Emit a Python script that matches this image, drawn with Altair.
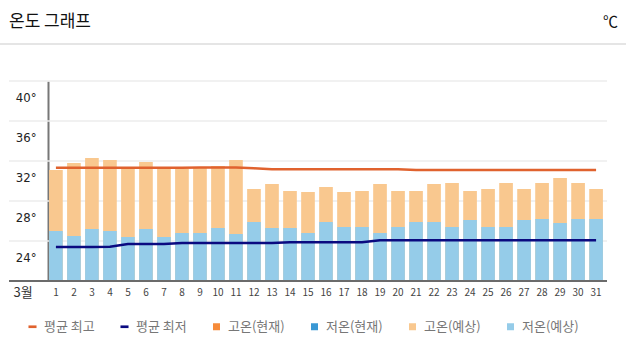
import altair as alt
import pandas as pd

KR = "Noto Sans CJK KR"

days = [1, 2, 3, 4, 5, 6, 7, 8, 9, 10, 11, 12, 13, 14, 15, 16, 17, 18, 19, 20,
        21, 22, 23, 24, 25, 26, 27, 28, 29, 30, 31]
high_forecast = [31.1, 31.8, 32.3, 32.1, 31.4, 31.9, 31.2, 31.2, 31.4, 31.5, 32.1,
                 29.2, 29.7, 29.0, 28.9, 29.4, 28.9, 29.0, 29.7, 29.0, 29.0,
                 29.7, 29.8, 29.0, 29.2, 29.8, 29.2, 29.8, 30.3, 29.8, 29.2]
low_forecast = [25.0, 24.5, 25.2, 25.0, 24.4, 25.2, 24.4, 24.8, 24.8, 25.3, 24.7,
                25.9, 25.3, 25.3, 24.8, 25.9, 25.4, 25.4, 24.8, 25.4, 25.9,
                25.9, 25.4, 26.1, 25.4, 25.4, 26.1, 26.2, 25.8, 26.2, 26.2]
avg_high = [31.33, 31.33, 31.33, 31.33, 31.33, 31.33, 31.33, 31.33, 31.34, 31.34, 31.34,
            31.27, 31.17, 31.17, 31.17, 31.17, 31.17, 31.17, 31.17, 31.17, 31.1,
            31.1, 31.1, 31.1, 31.1, 31.1, 31.1, 31.1, 31.1, 31.1, 31.1]
avg_low = [23.4, 23.4, 23.4, 23.42, 23.7, 23.7, 23.7, 23.8, 23.8, 23.8, 23.8,
           23.8, 23.8, 23.87, 23.87, 23.87, 23.87, 23.87, 24.08, 24.08, 24.08,
           24.08, 24.08, 24.08, 24.08, 24.08, 24.08, 24.08, 24.08, 24.08, 24.08]
y_ticks = [24, 28, 32, 36, 40]
y_base = 20
title_text = ["온도 그래프"]
unit_text = ["℃"]
month_label = "3월"

legend_items = ["평균 최고", "평균 최저", "고온(현재)", "저온(현재)", "고온(예상)", "저온(예상)"]
legend_colors = ["#E0622E", "#0A0A80", "#F68B3A", "#3A98D4", "#F9C88F", "#95CCE9"]
DASH = "M-1.15,-0.38L1.15,-0.38L1.15,0.38L-1.15,0.38Z"
SQ = "M-1,-1L1,-1L1,1L-1,1Z"
legend_shapes = [DASH, DASH, SQ, SQ, SQ, SQ]

W, H = 556, 200

df = pd.DataFrame({"day": days, "high": high_forecast, "low": low_forecast,
                   "avg_high": avg_high, "avg_low": avg_low})
df_grid = pd.DataFrame({"v": y_ticks})
df_title = pd.DataFrame({"t": title_text})
df_unit = pd.DataFrame({"t": unit_text})
df_leg = pd.DataFrame({"item": legend_items})

yscale = alt.Scale(domain=[y_base, 40], nice=False, zero=False)
xscale = alt.Scale(paddingInner=0.24, paddingOuter=0.06)

x_axis = alt.Axis(title=month_label, labelAngle=0, domain=False, ticks=False,
                  grid=False, labelPadding=6, labelFontSize=10,
                  labelColor="#444", labelFont=KR,
                  titleX=-35, titleY=11, titleAlign="left",
                  titleBaseline="middle", titleFontSize=13,
                  titleFontWeight="normal", titleFont=KR,
                  titleColor="#333")
y_axis = alt.Axis(values=y_ticks, title=None, grid=False, ticks=False,
                  domainColor="#777", domainWidth=2,
                  labelExpr="datum.value + '°'", labelOffset=16,
                  labelPadding=12, labelFontSize=13, labelColor="#222",
                  labelFont="Liberation Sans Narrow, DejaVu Sans Condensed, sans-serif")


def X():
    return alt.X("day:O", scale=xscale, sort=None, axis=x_axis, title=month_label)


def Y(field):
    return alt.Y(field, scale=yscale, axis=y_axis, title=None)


grid = alt.Chart(df_grid).mark_rule(color="#ececec", strokeWidth=1.5).encode(
    y=Y("v:Q"), x=alt.value(-39), x2=alt.value(559))

bars_high = alt.Chart(df).mark_bar(color=legend_colors[4]).encode(
    x=X(), y=Y("high:Q"), y2=alt.datum(y_base))

bars_low = alt.Chart(df).mark_bar(color=legend_colors[5]).encode(
    x=X(), y=Y("low:Q"), y2=alt.datum(y_base))

line_high = alt.Chart(df).mark_line(color=legend_colors[0], strokeWidth=2.5).encode(
    x=X(), y=Y("avg_high:Q"))
line_low = alt.Chart(df).mark_line(color=legend_colors[1], strokeWidth=2.5).encode(
    x=X(), y=Y("avg_low:Q"))

baseline = alt.Chart(df_title).mark_rule(color="#6b6b6b", strokeWidth=2).encode(
    y=alt.datum(y_base), x=alt.value(-39), x2=alt.value(559))

title = alt.Chart(df_title).mark_text(align="left", baseline="middle", fontSize=17,
                                      font=KR, color="#111").encode(
    x=alt.value(-39), y=alt.value(-59), text="t:N")
unit = alt.Chart(df_unit).mark_text(align="right", baseline="middle", fontSize=15,
                                    font=KR, color="#111").encode(
    x=alt.value(570), y=alt.value(-59), text="t:N")
sep = alt.Chart(df_title).mark_rule(color="#dddddd", strokeWidth=1.5).encode(
    x=alt.value(-48), x2=alt.value(578), y=alt.value(-37))

leg_props = dict(title=None, orient="none", legendX=-22, legendY=239,
                 direction="horizontal", columns=6, labelFontSize=13, labelFont=KR,
                 labelColor="#777", symbolSize=49, symbolStrokeWidth=0,
                 labelOffset=5, columnPadding=23)
legend_layer = alt.Chart(df_leg).mark_point(filled=True, opacity=1, size=49,
                                            clip=True).encode(
    y=alt.value(1000),
    color=alt.Color("item:N", sort=legend_items,
                    scale=alt.Scale(domain=legend_items, range=legend_colors),
                    legend=alt.Legend(**leg_props)),
    shape=alt.Shape("item:N", sort=legend_items,
                    scale=alt.Scale(domain=legend_items, range=legend_shapes),
                    legend=alt.Legend(**leg_props)))

chart = alt.layer(grid, bars_high, bars_low, line_high, line_low, baseline,
                  title, unit, sep, legend_layer).properties(
    width=W, height=H,
    autosize=alt.AutoSizeParams(type="none"),
    padding={"left": 48, "top": 81, "right": 22, "bottom": 73},
    background="white",
).configure_view(stroke=None)

chart.save("out.html", embed_options={"renderer": "svg", "actions": False})
